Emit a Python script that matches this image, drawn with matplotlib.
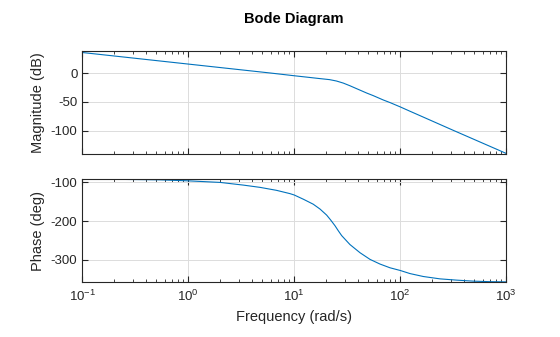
import matplotlib
matplotlib.use('Agg')
import matplotlib.pyplot as plt
from matplotlib.ticker import LogLocator, NullFormatter

plt.rcParams['font.family'] = ['Liberation Sans', 'DejaVu Sans']
plt.rcParams['axes.unicode_minus'] = False
plt.rcParams['mathtext.fontset'] = 'custom'
plt.rcParams['mathtext.rm'] = 'Liberation Sans'

# values
freq_mag = [0.1, 1, 5.9, 10, 13.9, 17, 21.5, 25, 29, 33.5, 38.8, 48.2,
            55.6, 69.1, 80, 100, 123.5, 153, 316, 1000]
mag_db = [35.6, 15.6, 0.2, -4.6, -7.5, -9.3, -11.3, -13.7, -17.3, -21.9,
          -27, -34.5, -39, -46.5, -51, -58.5, -66, -73.5, -99, -139]

freq_ph = [0.1, 0.54, 1, 2, 3.3, 4.75, 6.8, 9.1, 10, 12.2, 15.1, 17.5, 20.2,
           22, 24.2, 26, 28, 33.5, 41.7, 51.8, 64.3, 80, 100, 123.5, 165, 237,
           341, 489, 702, 1000]
phase_deg = [-91, -93.3, -95.9, -100, -106.9, -112.8, -120.5, -129, -132.6,
             -143.6, -156.4, -169, -184.6, -197, -212, -225, -237.7, -260.8,
             -282, -299.2, -311.3, -321, -328, -336, -343.6, -349.7, -353,
             -355.6, -357, -357.5]

mag_ticks = [-100, -50, 0]
phase_ticks = [-300, -200, -100]

line_col = '#0072BD'
ax_col = '#262626'

fig = plt.figure(figsize=(5.6, 3.37), dpi=100)
ax1 = fig.add_axes([0.147, 0.543, 0.757, 0.307])
ax2 = fig.add_axes([0.147, 0.163, 0.757, 0.306])

ax1.semilogx(freq_mag, mag_db, color=line_col, lw=0.8)
ax2.semilogx(freq_ph, phase_deg, color=line_col, lw=0.8)

ax1.set_ylim(-140, 39)
ax2.set_ylim(-358, -91)
ax1.set_yticks(mag_ticks)
ax2.set_yticks(phase_ticks)

for ax in (ax1, ax2):
    ax.set_xlim(0.1, 1000)
    ax.xaxis.set_major_locator(LogLocator(base=10, numticks=10))
    ax.xaxis.set_minor_locator(LogLocator(base=10, subs=range(2, 10), numticks=20))
    ax.xaxis.set_minor_formatter(NullFormatter())
    ax.grid(True, which='major', color='#dcdcdc', lw=0.7)
    ax.set_axisbelow(True)
    ax.tick_params(which='both', direction='in', top=True, right=True,
                   colors=ax_col, labelsize=9.5)
    ax.tick_params(which='major', length=4)
    ax.tick_params(which='minor', length=2)
    for s in ax.spines.values():
        s.set_color(ax_col)
        s.set_linewidth(0.8)

ax1.tick_params(labelbottom=False)
ax2.tick_params(axis='x', which='major', pad=5)

ax1.set_ylabel('Magnitude (dB)', fontsize=10.5, color=ax_col)
ax2.set_ylabel('Phase (deg)', fontsize=10.5, color=ax_col)
ax2.set_xlabel('Frequency (rad/s)', fontsize=10.5, color=ax_col)
fig.suptitle('Bode Diagram', fontsize=10.5, fontweight='bold', x=0.525, y=0.963,
             color='black')

fig.savefig('out.png', dpi=100)
